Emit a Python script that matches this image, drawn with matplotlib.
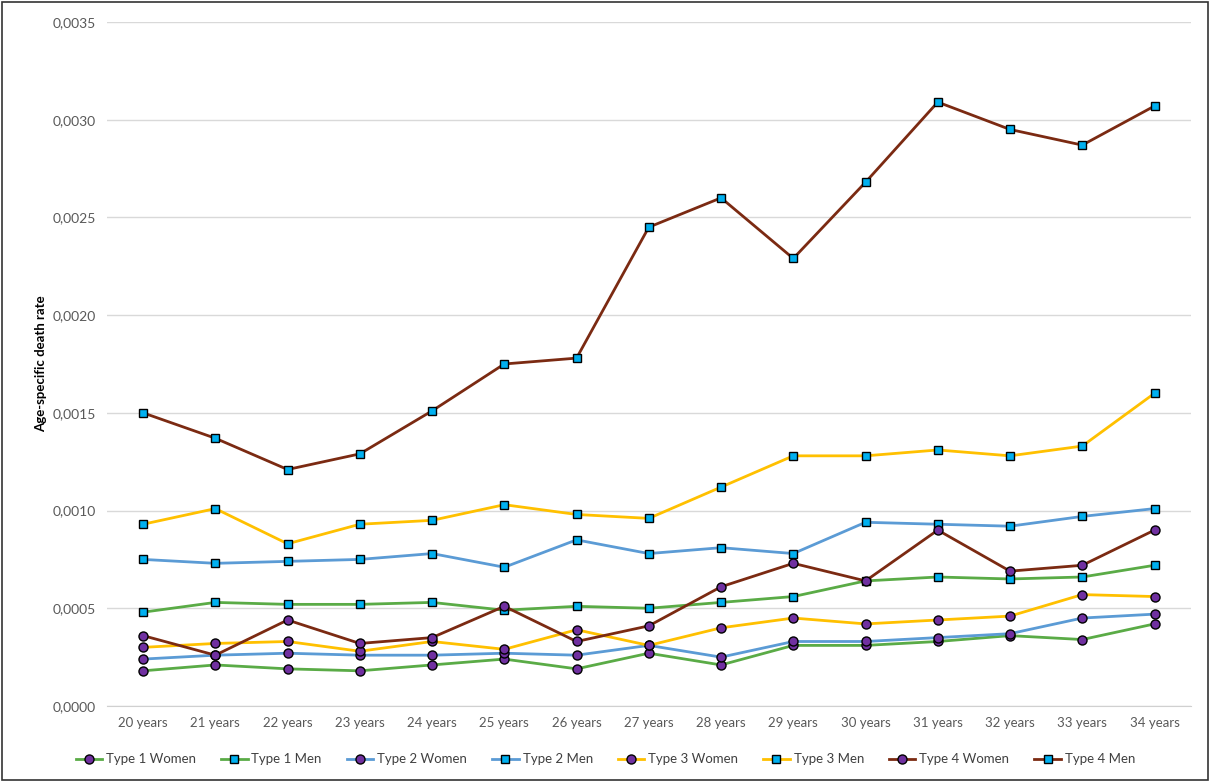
import numpy as np
import matplotlib
matplotlib.use('Agg')
import matplotlib.pyplot as plt
from matplotlib.ticker import FuncFormatter, MultipleLocator

plt.rcParams['font.family'] = ['Lato', 'DejaVu Sans']

# Dane
ages = ['20 years', '21 years', '22 years', '23 years', '24 years', '25 years', '26 years', '27 years',
        '28 years', '29 years', '30 years', '31 years', '32 years', '33 years', '34 years']

type1_women = [0.00018, 0.00021, 0.00019, 0.00018, 0.00021, 0.00024, 0.00019, 0.00027,
               0.00021, 0.00031, 0.00031, 0.00033, 0.00036, 0.00034, 0.00042]
type1_men = [0.00048, 0.00053, 0.00052, 0.00052, 0.00053, 0.00049, 0.00051, 0.00050,
             0.00053, 0.00056, 0.00064, 0.00066, 0.00065, 0.00066, 0.00072]
type2_women = [0.00024, 0.00026, 0.00027, 0.00026, 0.00026, 0.00027, 0.00026, 0.00031,
               0.00025, 0.00033, 0.00033, 0.00035, 0.00037, 0.00045, 0.00047]
type2_men = [0.00075, 0.00073, 0.00074, 0.00075, 0.00078, 0.00071, 0.00085, 0.00078,
             0.00081, 0.00078, 0.00094, 0.00093, 0.00092, 0.00097, 0.00101]
type3_women = [0.00030, 0.00032, 0.00033, 0.00028, 0.00033, 0.00029, 0.00039, 0.00031,
               0.00040, 0.00045, 0.00042, 0.00044, 0.00046, 0.00057, 0.00056]
type3_men = [0.00093, 0.00101, 0.00083, 0.00093, 0.00095, 0.00103, 0.00098, 0.00096,
             0.00112, 0.00128, 0.00128, 0.00131, 0.00128, 0.00133, 0.00160]
type4_women = [0.00036, 0.00026, 0.00044, 0.00032, 0.00035, 0.00051, 0.00033, 0.00041,
               0.00061, 0.00073, 0.00064, 0.00090, 0.00069, 0.00072, 0.00090]
type4_men = [0.00150, 0.00137, 0.00121, 0.00129, 0.00151, 0.00175, 0.00178, 0.00245,
             0.00260, 0.00229, 0.00268, 0.00309, 0.00295, 0.00287, 0.00307]

series = [
    ('Type 1 Women', type1_women, '#5aab46', 'o'),
    ('Type 1 Men', type1_men, '#5aab46', 's'),
    ('Type 2 Women', type2_women, '#5b9bd5', 'o'),
    ('Type 2 Men', type2_men, '#5b9bd5', 's'),
    ('Type 3 Women', type3_women, '#ffc000', 'o'),
    ('Type 3 Men', type3_men, '#ffc000', 's'),
    ('Type 4 Women', type4_women, '#7b2a12', 'o'),
    ('Type 4 Men', type4_men, '#7b2a12', 's'),
]

fig = plt.figure(figsize=(12.1, 7.82), dpi=100)
ax = fig.add_axes([0.0884, 0.0972, 0.8956, 0.8747])

x = np.arange(len(ages))
for name, vals, col, mk in series:
    face = '#7030a0' if mk == 'o' else '#00b0f0'
    ax.plot(x, vals, color=col, lw=2.0, marker=mk, ms=6.5 if mk == 'o' else 6,
            mfc=face, mec='black', mew=1.0, label=name)

ax.set_xlim(-0.5, len(ages) - 0.5)
ax.set_ylim(0, 0.0035)
ax.yaxis.set_major_locator(MultipleLocator(0.0005))
ax.yaxis.set_major_formatter(FuncFormatter(lambda v, p: f'{v:.4f}'.replace('.', ',')))
ax.set_xticks(x)
ax.set_xticklabels(ages)
ax.grid(axis='y', color='#d9d9d9', lw=1)
ax.set_axisbelow(True)
for s in ['top', 'right', 'left']:
    ax.spines[s].set_visible(False)
ax.spines['bottom'].set_color('#d0d0d0')
ax.tick_params(axis='x', length=0, labelsize=9.5, colors='#595959', pad=8)
ax.tick_params(axis='y', length=0, labelsize=10, colors='#595959', pad=8)
ax.set_ylabel('Age-specific death rate', fontsize=9.5, fontweight='bold', color='black', labelpad=4)

ax.legend(loc='upper center', bbox_to_anchor=(0.46, -0.052), ncol=8, frameon=False,
          fontsize=9.5, handlelength=2.0, handletextpad=0.3, columnspacing=1.9,
          labelcolor='#404040')

# ramka
fig.patches.append(plt.Rectangle((0.002, 0.003), 0.996, 0.994, transform=fig.transFigure,
                                 fill=False, edgecolor='#333333', lw=1.2))

fig.savefig('out.png', dpi=100)
